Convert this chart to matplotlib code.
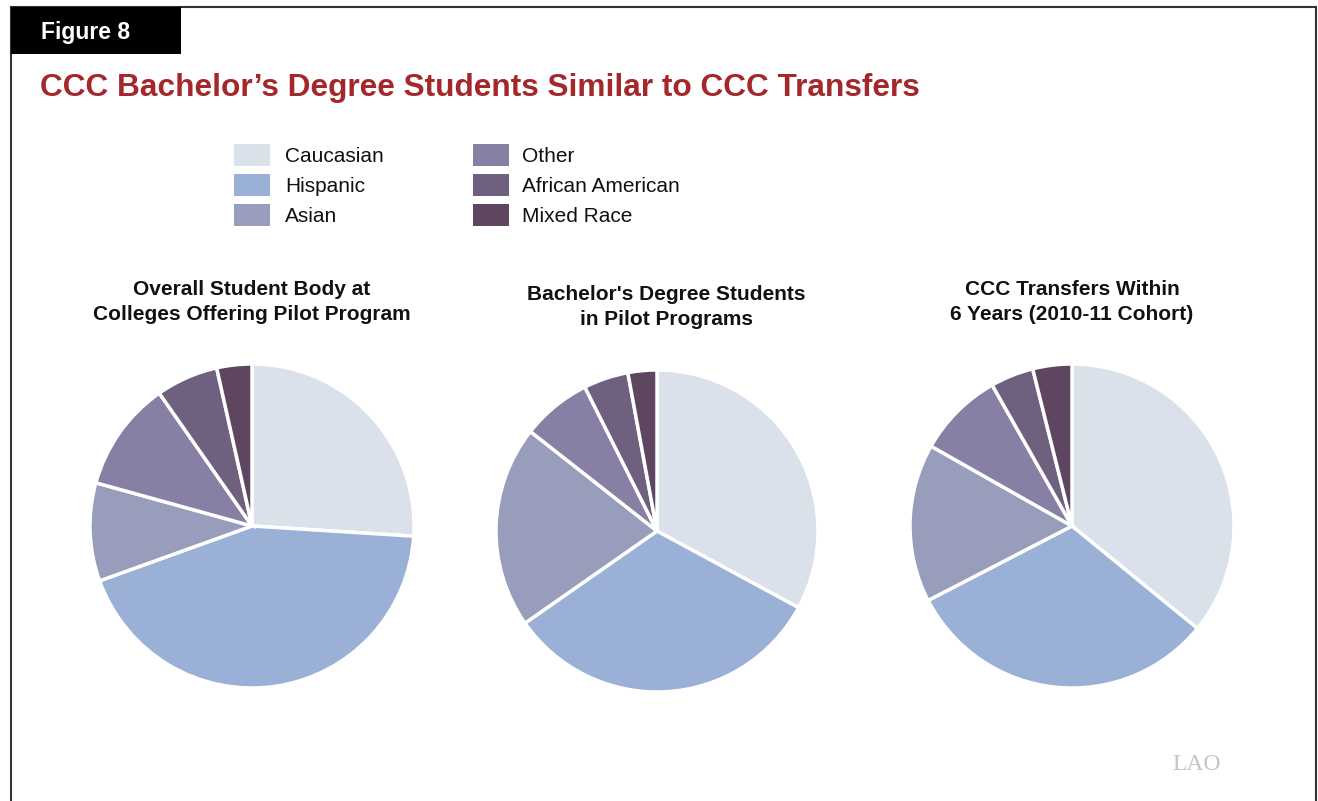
import matplotlib
matplotlib.use("Agg")
import matplotlib.pyplot as plt
from matplotlib.patches import Rectangle

plt.rcParams["font.family"] = ["Liberation Sans", "DejaVu Sans"]

W, H = 1318, 801

# datos
categorias = ["Caucasian", "Hispanic", "Asian", "Other", "African American", "Mixed Race"]
colores = ["#dae1ea", "#9bb0d6", "#979dbb", "#8780a4", "#70607f", "#5e4660"]

titulos = [
    "Overall Student Body at\nColleges Offering Pilot Program",
    "Bachelor's Degree Students\nin Pilot Programs",
    "CCC Transfers Within\n6 Years (2010-11 Cohort)",
]
overall = [26.0, 43.5, 9.8, 11.0, 6.2, 3.5]
pilot = [32.9, 32.4, 20.3, 7.0, 4.5, 2.9]
transfers = [35.9, 31.5, 15.8, 8.6, 4.3, 3.9]
series = [overall, pilot, transfers]

fig = plt.figure(figsize=(W / 100, H / 100), dpi=100)


def fx(px):
    return px / W


def fy(py):
    return 1 - py / H


# marco y pestaña "Figure 8"
fig.patches.append(Rectangle((fx(11), fy(830)), fx(1316 - 11), (830 - 7) / H,
                             transform=fig.transFigure, fill=False,
                             edgecolor="#333333", linewidth=1.5))
fig.patches.append(Rectangle((fx(11), fy(54)), fx(181 - 11), (54 - 7) / H,
                             transform=fig.transFigure, facecolor="black",
                             edgecolor="none"))
fig.text(fx(41), fy(32), "Figure 8", color="white", fontsize=16.5, fontweight="bold",
         va="center", ha="left")
fig.text(fx(40), fy(88), "CCC Bachelor\u2019s Degree Students Similar to CCC Transfers",
         color="#a4282b", fontsize=22.8, fontweight="bold", va="center", ha="left")

# leyenda manual
filas = [155, 185, 215]
for i, (cat, col) in enumerate(zip(categorias, colores)):
    x0 = 234 if i < 3 else 473
    tx = 285 if i < 3 else 522
    y = filas[i % 3]
    fig.patches.append(Rectangle((fx(x0), fy(y + 11)), fx(36), 22 / H,
                                 transform=fig.transFigure, facecolor=col,
                                 edgecolor="none"))
    fig.text(fx(tx), fy(y + 2), cat, fontsize=15, va="center", ha="left", color="#111111")

# pasteles
centros = [(252, 526, 162), (657, 531, 161), (1072, 526, 162)]
pos_titulos = [(252, 302), (666, 307), (1072, 302)]
for vals, (cx, cy, r), titulo, (tx, ty) in zip(series, centros, titulos, pos_titulos):
    ax = fig.add_axes([fx(cx - r), fy(cy + r), fx(2 * r), 2 * r / H])
    ax.pie(vals, colors=colores, startangle=90, counterclock=False,
           wedgeprops=dict(edgecolor="white", linewidth=2.5))
    ax.set_xlim(-1.0, 1.0)
    ax.set_ylim(-1.0, 1.0)
    ax.set_aspect("equal")
    ax.axis("off")
    fig.text(fx(tx), fy(ty), titulo, fontsize=15, fontweight="bold", ha="center",
             va="center", linespacing=1.35, color="#111111")

# logo
fig.text(fx(1172), fy(765), "LAO", family="Liberation Serif", fontsize=17,
         color="#c4c4c4", va="center", ha="left")

fig.savefig("out.png", dpi=100)
